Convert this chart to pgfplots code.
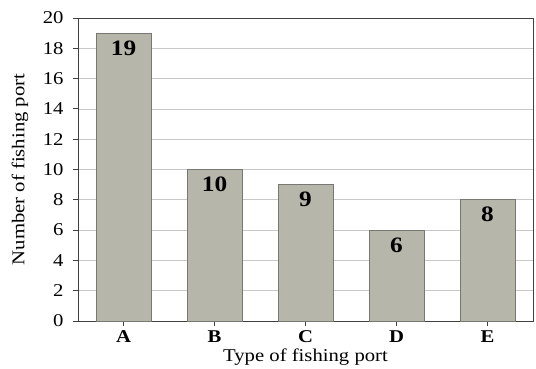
\documentclass[border=0pt]{standalone}
\usepackage{fontspec}
\setmainfont{Liberation Serif}[FakeStretch=1.15]
\usepackage{pgfplots}
\pgfplotsset{compat=1.18}
\definecolor{barfill}{RGB}{183,182,170}
\definecolor{baredge}{RGB}{120,120,115}
\definecolor{gridc}{RGB}{200,200,200}
\begin{document}
\begin{tikzpicture}
\begin{axis}[
  scale only axis,
  width=455pt, height=303pt,
  ymin=0, ymax=20, ytick={0,2,...,20},
  xmin=-0.5, xmax=4.5,
  xtick={0,1,2,3,4},
  xticklabels={A,B,C,D,E},
  ybar, bar width=55pt,
  ymajorgrids, grid style={gridc, line width=0.8pt},
  axis line style={black!75, line width=0.9pt},
  tick style={black!75, line width=0.9pt},
  tick align=outside, major tick length=5pt,
  xtick pos=bottom, ytick pos=left,
  /pgf/number format/assume math mode=true,
  yticklabel style={font=\fontsize{18}{20}\selectfont, xshift=-6pt},
  xticklabel style={font=\fontsize{18}{20}\selectfont\bfseries, inner sep=0pt, yshift=-4.5pt},
  xlabel={Type of fishing port},
  ylabel={Number of fishing port},
  every axis x label/.style={at={(axis description cs:0.5,0)}, anchor=base,
    yshift=-40pt, inner sep=0pt, font=\fontsize{18}{20}\selectfont},
  every axis y label/.style={at={(axis description cs:-0.1275,0.5)}, rotate=90,
    anchor=center, inner sep=0pt, font=\fontsize{18}{20}\selectfont},
  nodes near coords,
  every node near coord/.append style={font=\fontsize{22}{24}\selectfont\bfseries,
    anchor=north, inner sep=0pt, yshift=-7pt, text=black},
]
\addplot[fill=barfill, draw=baredge, line width=0.8pt] coordinates {(0,19) (1,10) (2,9) (3,6) (4,8)};
\coordinate (bl) at (rel axis cs:0,0);
\coordinate (tr) at (rel axis cs:1,1);
\end{axis}
\pgfresetboundingbox
\path ([xshift=-78pt,yshift=-47pt]bl) rectangle ([xshift=3pt,yshift=18pt]tr);
\end{tikzpicture}
\end{document}
